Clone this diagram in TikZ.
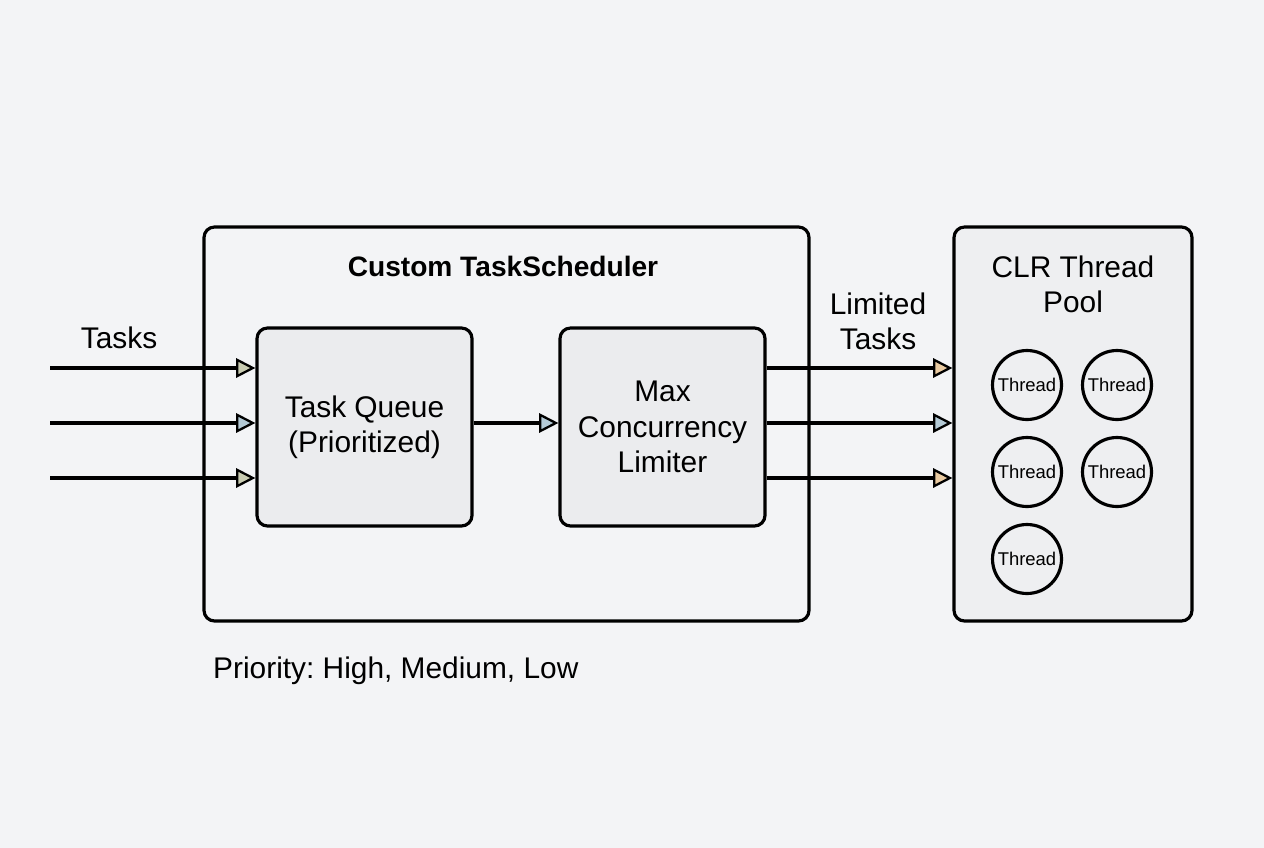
\documentclass[tikz,border=0pt]{standalone}
\usepackage{fontspec}
\setmainfont{Liberation Sans}
\usetikzlibrary{arrows.meta,positioning}
\frenchspacing
\definecolor{bgc}{HTML}{F3F4F6}
\definecolor{boxc}{HTML}{EBECEE}
\definecolor{tipa}{HTML}{C9CCB2}
\definecolor{tipb}{HTML}{B4CAD6}
\definecolor{tipc}{HTML}{EACBA2}
\tikzset{
  blk/.style={draw, line width=1.8pt, rounded corners=6pt, fill=boxc},
  thr/.style={draw, circle, line width=1.8pt, minimum size=1.38cm, inner sep=0pt, font=\fontsize{10.5}{12}\selectfont},
  lbl/.style={font=\fontsize{17}{20}\selectfont, align=center},
  flow/.style={line width=1.8pt, -{Triangle[length=11pt,width=11pt,fill=#1,line width=1.3pt]}},
}
\begin{document}
\begin{tikzpicture}[x=0.02cm, y=-0.02cm]
    \fill[bgc] (0,0) rectangle (1264,848);

    \node[blk, fill=bgc, minimum width=605*0.02cm, minimum height=394*0.02cm] (sched) at (506.5,424) {};
    \node[blk, fill=boxc!60!bgc, minimum width=238*0.02cm, minimum height=394*0.02cm] (pool) at (1073,424) {};
    \node[blk, lbl, minimum width=215*0.02cm, minimum height=198*0.02cm] (queue) at (364.5,427) {Task Queue\\(Prioritized)};
    \node[blk, lbl, minimum width=205*0.02cm, minimum height=198*0.02cm] (limit) at (662.5,427) {Max\\Concurrency\\Limiter};

    \node[font=\fontsize{16}{18}\selectfont\bfseries] (title) at (503,266) {Custom TaskScheduler};
    \node[lbl] (pooltitle) at (1073,284) {CLR Thread\\Pool};
    \node[lbl] (tasks) at (119,338) {Tasks};
    \node[lbl] (limtasks) at (878,321) {Limited\\Tasks};
    \node[lbl, anchor=west] (prio) at (207,671) {Priority: High, Medium, Low};

    % threads
    \node[thr] (t1) at (1027,385) {Thread};
    \node[thr] (t2) at (1117,385) {Thread};
    \node[thr] (t3) at (1027,472) {Thread};
    \node[thr] (t4) at (1117,472) {Thread};
    \node[thr] (t5) at (1027,559) {Thread};

    % incoming tasks
    \coordinate (in1) at (50,368);
    \coordinate (in2) at (50,423);
    \coordinate (in3) at (50,478);
    \draw[flow=tipa] (in1) -- (in1 -| queue.west);
    \draw[flow=tipb] (in2) -- (in2 -| queue.west);
    \draw[flow=tipa] (in3) -- (in3 -| queue.west);

    \draw[flow=tipb] (queue.east |- in2) -- (limit.west |- in2);

    \draw[flow=tipc] (limit.east |- in1) -- (pool.west |- in1);
    \draw[flow=tipb] (limit.east |- in2) -- (pool.west |- in2);
    \draw[flow=tipc] (limit.east |- in3) -- (pool.west |- in3);
\end{tikzpicture}
\end{document}
